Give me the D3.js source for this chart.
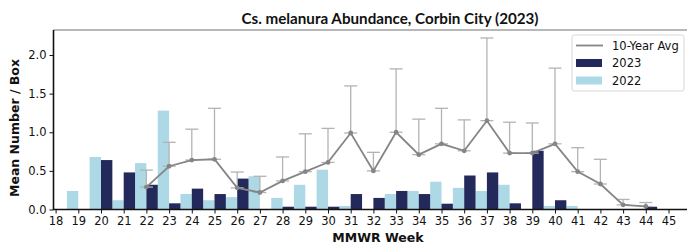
<!DOCTYPE html>
<html>
<head>
<meta charset="utf-8">
<script src="https://cdn.jsdelivr.net/npm/d3@7"></script>
<style>
  body { margin: 0; background: #fff; }
  svg { display: block; }
</style>
</head>
<body>
<svg id="chart" width="687" height="245"></svg>
<script>
// ---- data ----
const weeks = [18,19,20,21,22,23,24,25,26,27,28,29,30,31,32,33,34,35,36,37,38,39,40,41,42,43,44,45];
const values2022 = [0,0.24,0.68,0.12,0.60,1.28,0.20,0.12,0.16,0.43,0.15,0.32,0.515,0.045,0,0.20,0.24,0.36,0.28,0.24,0.32,0,0.045,0.045,0,0,0,0];
const values2023 = [0,0,0.64,0.48,0.32,0.08,0.27,0.20,0.40,0,0.036,0.036,0.036,0.20,0.15,0.24,0.20,0.075,0.44,0.48,0.08,0.76,0.12,0,0,0,0.036,0];
const avgWeeks = [22,23,24,25,26,27,28,29,30,31,32,33,34,35,36,37,38,39,40,41,42,43,44];
const avgValues = [0.29,0.56,0.64,0.65,0.28,0.22,0.37,0.49,0.61,0.99,0.50,1.00,0.71,0.85,0.76,1.15,0.73,0.73,0.85,0.49,0.33,0.06,0.04];
const avgErr = [0.22,0.31,0.40,0.66,0.205,0.21,0.31,0.49,0.44,0.61,0.24,0.82,0.46,0.46,0.40,1.07,0.40,0.39,0.98,0.31,0.32,0.07,0.05];
const yTicks = [0, 0.5, 1.0, 1.5, 2.0];
const legendLabels = ["10-Year Avg", "2023", "2022"];
const chartTitle = "Cs. melanura Abundance, Corbin City (2023)";
const xLabel = "MMWR Week";
const yLabel = "Mean Number / Box";

(function () {
// ---- layout ----
const colDark = "#232a5b", colLight = "#add8e6", colLine = "#858585", colErr = "#b3b3b3";
const pL = 53.5, pR = 687, pT = 30, pB = 209.5;
const x = d3.scaleLinear().domain([18, 45]).range([55.6, 668.5]);
const y = d3.scaleLinear().domain([0, 2]).range([pB, 55]);
const bw = x(0.5) - x(0);

const svg = d3.select("#chart");
const font = "'DejaVu Sans', sans-serif";

// bars
const g = svg.append("g");
g.selectAll("rect.b22").data(weeks.map((w,i)=>({w, v: values2022[i]})).filter(d=>d.v>0))
  .join("rect").attr("class","b22").attr("x", d => x(d.w) - bw).attr("width", bw)
  .attr("y", d => y(d.v)).attr("height", d => y(0) - y(d.v)).attr("fill", colLight);
g.selectAll("rect.b23").data(weeks.map((w,i)=>({w, v: values2023[i]})).filter(d=>d.v>0))
  .join("rect").attr("class","b23").attr("x", d => x(d.w)).attr("width", bw)
  .attr("y", d => y(d.v)).attr("height", d => y(0) - y(d.v)).attr("fill", colDark);

// error bars
const avg = avgWeeks.map((w,i)=>({w, v: avgValues[i], e: avgErr[i]}));
const eg = svg.append("g").attr("stroke", colErr).attr("stroke-width", 1.3).attr("fill", "none");
avg.forEach(d => {
  eg.append("line").attr("x1", x(d.w)).attr("x2", x(d.w)).attr("y1", y(d.v)).attr("y2", y(d.v + d.e));
  eg.append("line").attr("x1", x(d.w)-6.5).attr("x2", x(d.w)+6.5).attr("y1", y(d.v + d.e)).attr("y2", y(d.v + d.e));
  eg.append("line").attr("x1", x(d.w)-6.5).attr("x2", x(d.w)+6.5).attr("y1", y(d.v)).attr("y2", y(d.v));
});
// avg line
svg.append("path").datum(avg)
  .attr("d", d3.line().x(d => x(d.w)).y(d => y(d.v)))
  .attr("fill", "none").attr("stroke", colLine).attr("stroke-width", 1.8);
svg.append("g").selectAll("circle").data(avg).join("circle")
  .attr("cx", d => x(d.w)).attr("cy", d => y(d.v)).attr("r", 2.4).attr("fill", colLine);

// top spine
svg.append("line").attr("x1", pL).attr("x2", pR).attr("y1", pT).attr("y2", pT)
  .attr("stroke", "#a0a0a0").attr("stroke-width", 1.5);

// axes
const xAxis = d3.axisBottom(x).tickValues(weeks).tickFormat(d3.format("d")).tickSize(4).tickPadding(3);
const xa = svg.append("g").attr("transform", `translate(0,${pB})`).call(xAxis);
xa.select(".domain").remove();
xa.selectAll("text").attr("font-family", font).attr("font-size", 11.5).attr("fill", "#111");
xa.selectAll("line").attr("stroke", "#111").attr("stroke-width", 1);
const yAxis = d3.axisLeft(y).tickValues(yTicks).tickFormat(d3.format(".1f")).tickSize(4).tickPadding(3);
const ya = svg.append("g").attr("transform", `translate(${pL},0)`).call(yAxis);
ya.select(".domain").remove();
ya.selectAll("text").attr("font-family", font).attr("font-size", 11.5).attr("fill", "#111");
ya.selectAll("line").attr("stroke", "#111").attr("stroke-width", 1);

svg.append("line").attr("x1", pL).attr("x2", pL).attr("y1", pT).attr("y2", pB + 0.5)
  .attr("stroke", "#111").attr("stroke-width", 1.6);
svg.append("line").attr("x1", pL).attr("x2", pR).attr("y1", pB).attr("y2", pB)
  .attr("stroke", "#111").attr("stroke-width", 1.6);

// labels
svg.append("text").attr("x", 390).attr("y", 23.5).attr("text-anchor", "middle")
  .attr("font-family", "Lato, 'Open Sans', sans-serif").attr("font-weight", "bold").attr("font-size", 15.2)
  .attr("fill", "#111").text(chartTitle);
svg.append("text").attr("x", 378).attr("y", 241.5).attr("text-anchor", "middle")
  .attr("font-family", font).attr("font-weight", "bold").attr("font-size", 12.5)
  .attr("fill", "#111").text(xLabel);
svg.append("text").attr("transform", "translate(19,128) rotate(-90)").attr("text-anchor", "middle")
  .attr("font-family", font).attr("font-weight", "bold").attr("font-size", 12.5)
  .attr("fill", "#111").text(yLabel);

// legend
const lg = svg.append("g");
lg.append("rect").attr("x", 572).attr("y", 35).attr("width", 112).attr("height", 56).attr("rx", 2.5)
  .attr("fill", "#fff").attr("fill-opacity", 0.85).attr("stroke", "#d6d6d6").attr("stroke-width", 1);
lg.append("line").attr("x1", 576).attr("x2", 603).attr("y1", 45.5).attr("y2", 45.5)
  .attr("stroke", colLine).attr("stroke-width", 1.8);
lg.append("rect").attr("x", 576).attr("y", 59).attr("width", 26).attr("height", 8).attr("fill", colDark);
lg.append("rect").attr("x", 576).attr("y", 76.5).attr("width", 26).attr("height", 8).attr("fill", colLight);
[45.5, 63, 80.5].forEach((cy, i) => {
  lg.append("text").attr("x", 612).attr("y", cy + 4.2).attr("font-family", font).attr("font-size", 11.5)
    .attr("fill", "#111").text(legendLabels[i]);
});
})();
</script>
</body>
</html>
